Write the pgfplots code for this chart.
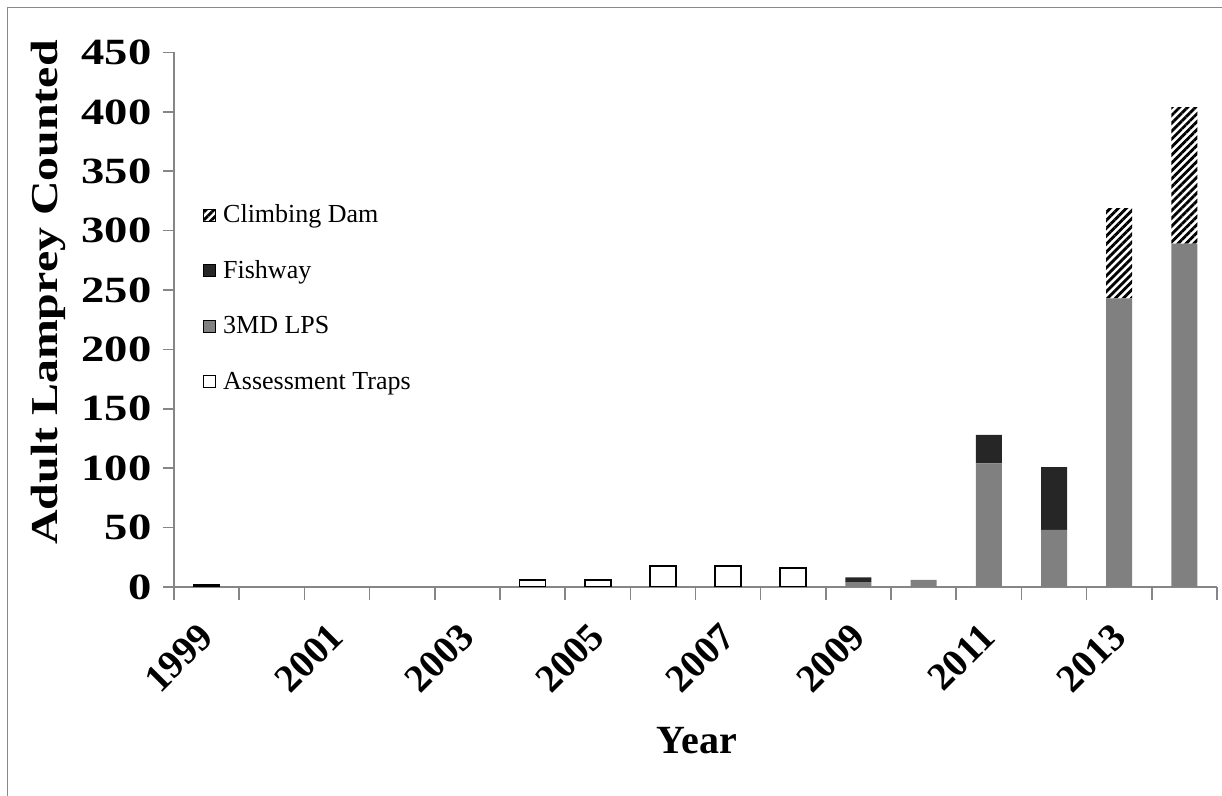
\documentclass[border=0pt]{standalone}
\usepackage{fontspec}
\setmainfont{Liberation Serif}
\usepackage{pgfplots}
\usepackage{pgfplotstable}
\pgfplotsset{compat=1.18}
\usetikzlibrary{patterns.meta}
\definecolor{axgray}{HTML}{868686}
\definecolor{framegray}{HTML}{898989}
\definecolor{lps}{HTML}{808080}
\definecolor{fish}{HTML}{262626}

% Assessment traps (only non-zero years; index 0 = 1999)
\pgfplotstableread{
x traps
0 2
5 6
6 6
7 18
8 18
9 16
}\traps

% Stacked series: 3MD LPS, Fishway, Climbing Dam
\pgfplotstableread{
x lps fish climb
0 0 0 0
1 0 0 0
2 0 0 0
3 0 0 0
4 0 0 0
5 0 0 0
6 0 0 0
7 0 0 0
8 0 0 0
9 0 0 0
10 4 4 0
11 6 0 0
12 104 24 0
13 48 53 0
14 243 0 76
15 289 0 115
}\stack

\pgfplotsset{
  common/.style={
    at={(0pt,0pt)}, anchor=south west,
    scale only axis, width=521.5pt, height=267.25pt,
    xmin=-0.5, xmax=15.5, ymin=0, ymax=450,
    bar width=13pt,
  },
}

\begin{document}
\begin{tikzpicture}[x=1pt,y=1pt]
\useasboundingbox (-87,-104.5) rectangle (524,293.5);
\draw[framegray, line width=0.75pt] (-83.25,-120) -- (-83.25,289.75) -- (540,289.75);

\begin{axis}[common,
  ybar,
  axis lines*=left,
  axis line style={-, axgray, line width=0.8pt},
  tick align=outside,
  ytick={0,50,...,450},
  major tick length=5.5pt,
  minor tick length=6.5pt,
  ytick style={axgray, line width=0.8pt},
  xtick={0,2,...,14},
  xticklabels={\textbf{1999},\textbf{2001},\textbf{2003},\textbf{2005},\textbf{2007},\textbf{2009},\textbf{2011},\textbf{2013}},
  major x tick style={draw=none},
  minor xtick={-0.5,0.5,...,15.5},
  minor x tick style={axgray, line width=0.8pt},
  /pgf/number format/assume math mode=true,
  yticklabel style={font=\fontsize{18.5}{18.5}\selectfont\bfseries, xscale=1.26, inner sep=0pt, anchor=east},
  xticklabel style={font=\fontsize{19.5}{19.5}\selectfont\bfseries, rotate=45, anchor=east, inner sep=0pt},
  xticklabel shift=16pt,
  yticklabel shift=5.5pt,
  xlabel={Year},
  xlabel style={font=\fontsize{20}{20}\selectfont\bfseries, at={(axis description cs:0.5014,-0.288)}, anchor=center},
  ylabel={Adult Lamprey Counted},
  ylabel style={font=\fontsize{19}{19}\selectfont\bfseries, at={(axis description cs:-0.1200,0.551)}, anchor=center, xscale=1.26},
]
\addplot[draw=black, fill=white, line width=0.9pt] table[x=x, y=traps] {\traps};
\end{axis}

\begin{axis}[common,
  ybar stacked,
  hide axis,
  reverse legend,
  legend image code/.code={\draw[#1] (0pt,-2.2pt) rectangle (6pt,3.8pt);},
  legend cell align=left,
  legend style={at={(0.0278,0.7147)}, anchor=north west, draw=none, fill=none,
    inner sep=0pt, outer sep=0pt, row sep=15.75pt,
    font=\fontsize{13}{13}\selectfont,
    nodes={inner sep=0pt, text height=9pt, text depth=3pt},
    /tikz/every odd column/.append style={column sep=3.5pt}},
]
\addlegendimage{draw=black, fill=white, line width=0.6pt}
\addlegendentry{Assessment Traps}
\addplot[draw=none, fill=lps] table[x=x, y=lps] {\stack};
\addlegendentry{3MD LPS}
\addplot[draw=none, fill=fish] table[x=x, y=fish] {\stack};
\addlegendentry{Fishway}
\addplot[draw=none, pattern={Lines[angle=45,distance=2.8pt,line width=1.4pt]}, pattern color=black] table[x=x, y=climb] {\stack};
\addlegendentry{Climbing Dam}
\end{axis}
\end{tikzpicture}
\end{document}
